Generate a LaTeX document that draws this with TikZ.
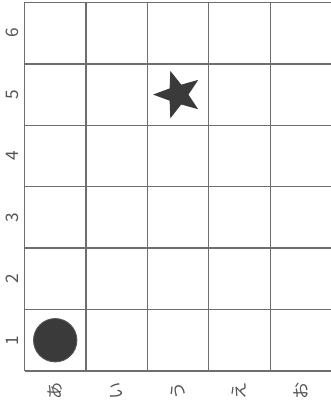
\documentclass[tikz,border=0pt]{standalone}
\usepackage{fontspec}
\newfontfamily\jpfont{Noto Sans CJK JP}
\usetikzlibrary{shapes.geometric}
\definecolor{gridgray}{HTML}{6E6E6E}
\definecolor{piece}{HTML}{3A3A3A}
\definecolor{labelgray}{HTML}{555555}

\begin{document}
\begin{tikzpicture}[x=1.5cm,y=1.5cm,
  lbl/.style={text=labelgray,font=\jpfont\large,rotate=90,inner sep=0pt}]
\useasboundingbox (-0.399,-0.522) rectangle (4.98,6.04);
\draw[gridgray,line width=0.9pt] (0,0) grid[step=1.5cm] (5,6);
% row and column labels
\foreach \n in {1,...,6}
  \node[lbl] (row\n) at (-0.2,\n-0.5) {\n};
\foreach \k [count=\i] in {あ,い,う,え,お}
  \node[lbl] (col\i) at (\i-0.5,-0.32) {\k};
% pieces
\node[circle,fill=piece,draw=piece!85,line width=0.6pt,minimum size=1.06cm,inner sep=0pt] (ball) at (0.5,0.5) {};
\node[star,star points=5,star point ratio=2.4,rotate=90,fill=piece,minimum size=1.22cm,inner sep=0pt] (goal) at (2.5,4.5) {};
\end{tikzpicture}
\end{document}
